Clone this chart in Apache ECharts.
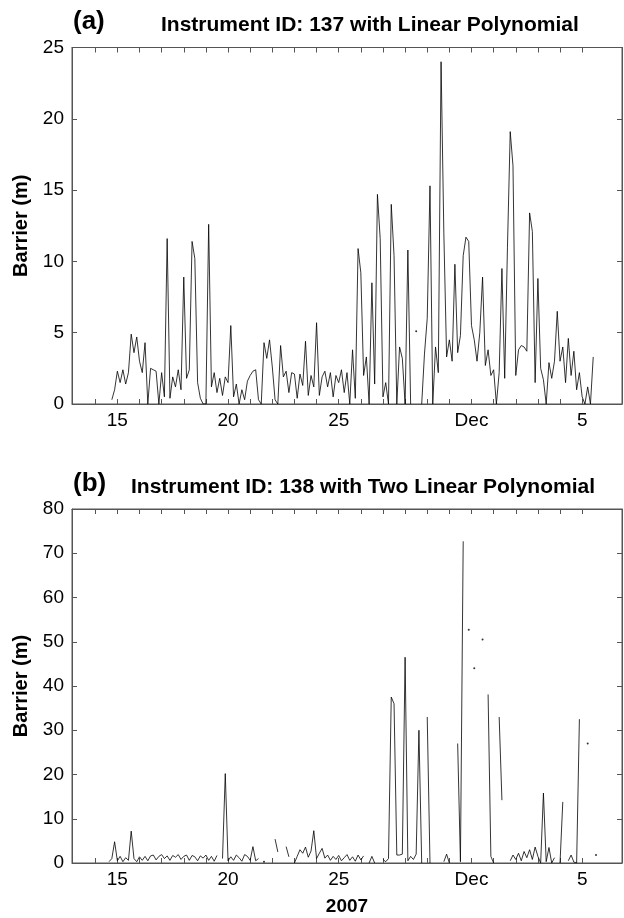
<!DOCTYPE html>
<html><head><meta charset="utf-8">
<script src="https://cdn.jsdelivr.net/npm/echarts@6/dist/echarts.min.js"></script>
<style>html,body{margin:0;padding:0;background:#fff}#c{width:624px;height:918px}</style>
</head><body><div id="c"></div>
<script>
// ---- data (day of Nov 2007; Dec 1 = 31) ----
const sampleStep = 0.125;
const startA = 14.75;
const barrierA = [
  0.3, 1.0,
  2.3, 1.5, 2.4, 1.4, 2.2, 4.9, 3.6, 4.7,
  3.0, 2.2, 4.3, 0, 2.5, 2.4, 2.3, 0,
  2.2, 0.5, 11.6, 0.4, 1.9, 1.2, 2.4, 1.0,
  8.9, 1.8, 2.4, 11.4, 10.2, 1.5, 0.4, 0,
  0, 12.6, 1.2, 2.2, 0.8, 1.8, 0.6, 1.9,
  1.5, 5.5, 0.5, 1.4, 0, 1.0, 0.3, 1.6,
  2.0, 2.3, 2.4, 0.3, 0, 4.3, 3.2, 4.5,
  2.6, 0.3, 0, 4.1, 1.9, 2.3, 0.8, 2.2,
  2.1, 0.4, 2.1, 1.3, 4.4, 0.6, 2.0, 1.2,
  5.7, 0.6, 1.9, 2.3, 1.2, 2.2, 0.5, 2.0,
  1.5, 2.4, 0.8, 2.2, 0, 3.8, 0.4, 10.9,
  9.2, 2.0, 3.3, 0, 8.5, 1.4, 14.7, 11.6,
  0.5, 1.5, 0, 14.0, 10.4, 0, 4.0, 3.2,
  0, 10.8, 0, null, 5.1, null, 0, 3.5,
  6.0, 15.3, 0, 4.0, 2.2, 24.0, 12.0, 3.3,
  4.5, 3.0, 9.8, 3.6, 4.8, 10.4, 11.7, 11.4,
  5.5, 4.5, 3.0, 5.0, 8.9, 2.7, 3.8, 2.0,
  2.4, 0, 2.2, 9.5, 1.8, 11.0, 19.1, 16.7,
  2.0, 3.8, 4.1, 4.0, 3.7, 13.4, 12.1, 1.5,
  8.8, 2.5, 1.7, 0, 2.9, 1.8, 3.0, 6.5,
  3.0, 4.0, 1.5, 4.6, 2.0, 3.7, 1.0, 2.2,
  0.5, 0, 1.2, 0, 3.3
];
const startB = 14.625;
const barrierB = [
  0.3, 1.0, 4.8,
  0.5, 1.5, 0.3, 1.2, 0.6, 7.2, 1.0, 0.3,
  1.4, 0.6, 1.5, 0.5, 1.6, 1.8, 0.7, 1.5,
  1.9, 1.0, 1.6, 0.6, 1.7, 1.3, 1.9, 0.8,
  1.5, 1.8, 0.6, 1.7, 1.4, 0.5, 1.6, 1.1,
  1.8, 0.6, 1.5, 0.4, 1.7, null, 1.0, 20.2,
  0.5, 1.4, 0.6, 1.8, 1.2, 0.4, 1.9, 1.5,
  0.6, 3.7, 0.5, 1.0, null, 0.3, null, null,
  null, 5.4, 2.5, null, null, 3.7, 1.4, null,
  0, 1.5, 3.0, 2.2, 3.6, 1.3, 2.7, 7.3,
  1.0, 2.2, 3.3, 1.1, 1.8, 0.6, 1.5, 0.8,
  1.7, 0.5, 1.2, 1.9, 0.6, 1.4, 0.4, 1.8,
  0.7, 1.6, null, 0, 1.5, 0, null, null,
  0.8, 0.3, 1.0, 37.5, 36.0, 1.8, 1.8, 2.0,
  46.5, 0.5, 1.5, 0.8, 2.0, 30.0, 0, null,
  33.0, 0, null, null, null, null, 0.3, 2.0,
  0, null, null, 27.0, 0.3, 72.7, null, 52.7,
  null, 44.0, null, null, 50.5, null, 38.1, 1.5,
  0, null, 33.0, 14.2, null, null, 0.5, 1.8,
  0.8, 2.2, 0.5, 2.6, 1.2, 3.0, 0.8, 3.6,
  1.5, 0, 15.8, 0.3, 3.5, 0, 1.2, null,
  0, 13.8, null, 0.5, 1.8, 0.2, 0, 32.5,
  null, null, 27.0, null, null, 1.8
];
const dayTicks = [14,15,16,17,18,19,20,21,22,23,24,25,26,27,28,29,30,31,32,33,34,35,36];
const labelDays = [15, 20, 25, 31, 36];
const labelTexts = ['15', '20', '25', 'Dec', '5'];
const titleA = 'Instrument ID: 137 with Linear Polynomial';
const titleB = 'Instrument ID: 138 with Two Linear Polynomial';
const yMaxA = 25, yStepA = 5;
const yMaxB = 80, yStepB = 10;

// ---- build ----
const FONT = '"Liberation Sans", Arial, Helvetica, sans-serif';
const AX = '#555';
function toPairs(start, arr) { return arr.map((v, i) => [start + i * sampleStep, v]); }
function isolated(pairs) {
  return pairs.filter((p, i) => p[1] != null &&
    (i === 0 || pairs[i - 1][1] == null) &&
    (i === pairs.length - 1 || pairs[i + 1][1] == null));
}
const pairsA = toPairs(startA, barrierA);
const pairsB = toPairs(startB, barrierB);

function xAx(grid, pos, labels, name) {
  return {
    type: 'value', gridIndex: grid, position: pos, min: 12.95, max: 37.8,
    axisLine: { show: true, onZero: false, lineStyle: { color: AX, width: 1 } },
    axisTick: { show: true, inside: true, length: 5, customValues: dayTicks, lineStyle: { color: AX } },
    axisLabel: {
      show: labels, customValues: labelDays, margin: 7, color: '#000', fontSize: 19, fontFamily: FONT,
      formatter: v => { const k = labelDays.indexOf(Math.round(v)); return k < 0 ? '' : labelTexts[k]; }
    },
    splitLine: { show: false },
    name: name || '', nameLocation: 'middle', nameGap: 34,
    nameTextStyle: { color: '#000', fontSize: 19, fontWeight: 'bold', fontFamily: FONT }
  };
}
function yAx(grid, pos, max, step, labels) {
  return {
    type: 'value', gridIndex: grid, position: pos, min: 0, max: max, interval: step,
    axisLine: { show: true, lineStyle: { color: AX, width: 1 } },
    axisTick: { show: true, inside: true, length: 5, lineStyle: { color: AX } },
    axisLabel: { show: labels, margin: 8, color: '#000', fontSize: 19, fontFamily: FONT },
    splitLine: { show: false },
    name: labels ? 'Barrier (m)' : '', nameLocation: 'middle', nameRotate: 90, nameGap: 40,
    nameTextStyle: { color: '#000', fontSize: 20, fontWeight: 'bold', fontFamily: FONT }
  };
}
function lineSeries(xi, yi, pairs) {
  return { type: 'line', xAxisIndex: xi, yAxisIndex: yi, data: pairs, showSymbol: false,
    connectNulls: false, lineStyle: { color: '#000', width: 0.8 }, silent: true, clip: true };
}
function dotSeries(xi, yi, pairs) {
  return { type: 'scatter', xAxisIndex: xi, yAxisIndex: yi, data: isolated(pairs), symbolSize: 2,
    itemStyle: { color: '#000' }, silent: true };
}
const tStyle = (s) => ({ fontSize: s, fontWeight: 'bold', color: '#000', fontFamily: FONT });

const chart = echarts.init(document.getElementById('c'), null, { renderer: 'canvas' });
chart.setOption({
  animation: false,
  backgroundColor: '#fff',
  title: [
    { text: '(a)', left: 73, top: 9, padding: 0, textStyle: tStyle(26) },
    { text: titleA, left: 161, top: 15, padding: 0, textStyle: tStyle(21) },
    { text: '(b)', left: 73, top: 471, padding: 0, textStyle: tStyle(26) },
    { text: titleB, left: 131, top: 477, padding: 0, textStyle: tStyle(21) }
  ],
  grid: [
    { left: 72, right: 2, top: 47.5, height: 356.5, show: true, borderColor: AX, borderWidth: 1, containLabel: false },
    { left: 72, right: 2, top: 509, height: 354, show: true, borderColor: AX, borderWidth: 1, containLabel: false }
  ],
  xAxis: [xAx(0, 'bottom', true), xAx(0, 'top', false), xAx(1, 'bottom', true, '2007'), xAx(1, 'top', false)],
  yAxis: [yAx(0, 'left', yMaxA, yStepA, true), yAx(0, 'right', yMaxA, yStepA, false),
          yAx(1, 'left', yMaxB, yStepB, true), yAx(1, 'right', yMaxB, yStepB, false)],
  series: [lineSeries(0, 0, pairsA), dotSeries(0, 0, pairsA), lineSeries(2, 2, pairsB), dotSeries(2, 2, pairsB)]
});
</script></body></html>
